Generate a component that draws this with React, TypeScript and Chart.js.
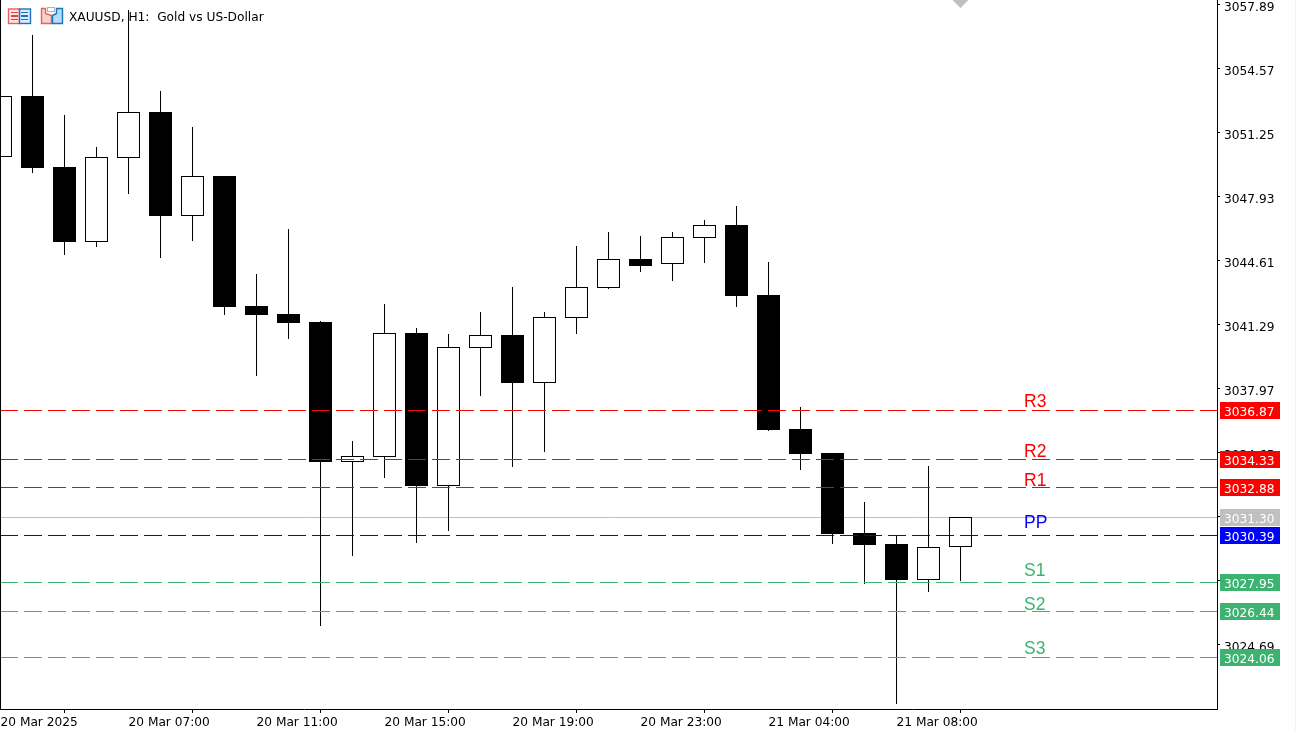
import { useEffect, useRef } from "react"
import { Chart, registerables } from "chart.js"

Chart.register(...registerables)

// One hourly candle per entry, XAUUSD H1
const opens = [
  3050.01, 3053.17, 3049.49, 3045.6, 3049.95, 3052.34, 3046.94, 3049.02, 3042.28, 3041.86, 3041.45,
  3034.18, 3034.44, 3040.87, 3032.94, 3040.1, 3040.77, 3038.28, 3041.65, 3043.21, 3044.71, 3044.45,
  3045.8, 3046.48, 3042.85, 3035.9, 3034.65, 3030.5, 3029.93, 3028.06, 3029.77,
]
const highs = [
  3053.17, 3056.33, 3052.18, 3050.52, 3057.63, 3053.43, 3051.56, 3049.02, 3043.94, 3046.27, 3041.5,
  3035.27, 3042.38, 3041.13, 3040.82, 3041.96, 3043.26, 3041.96, 3045.39, 3046.11, 3045.91, 3046.11,
  3046.74, 3047.46, 3044.56, 3037.04, 3034.65, 3032.11, 3030.4, 3033.98, 3031.33,
]
const lows = [
  3050.01, 3049.18, 3044.92, 3045.34, 3048.09, 3044.77, 3045.65, 3041.81, 3038.64, 3040.56, 3025.68,
  3029.31, 3033.35, 3029.98, 3030.6, 3037.61, 3033.92, 3034.7, 3040.82, 3043.16, 3044.04, 3043.57,
  3044.51, 3042.22, 3035.79, 3033.77, 3029.93, 3027.85, 3021.63, 3027.44, 3028.01,
]
const closes = [
  3053.17, 3049.43, 3045.6, 3050.0, 3052.34, 3046.94, 3049.02, 3042.22, 3041.81, 3041.39, 3034.18,
  3034.49, 3040.87, 3032.94, 3040.15, 3040.77, 3038.28, 3041.7, 3043.26, 3044.71, 3044.35, 3045.85,
  3046.48, 3042.79, 3035.84, 3034.6, 3030.45, 3029.88, 3028.06, 3029.77, 3031.33,
]

const priceTicks = [
  3057.89, 3054.57, 3051.25, 3047.93, 3044.61, 3041.29, 3037.97, 3034.65, 3031.33, 3028.01, 3024.69,
]
const timeTickBars = [0, 4, 8, 12, 16, 20, 24, 28]
const timeTickLabels = [
  "20 Mar 2025",
  "20 Mar 07:00",
  "20 Mar 11:00",
  "20 Mar 15:00",
  "20 Mar 19:00",
  "20 Mar 23:00",
  "21 Mar 04:00",
  "21 Mar 08:00",
]

const levelNames = ["R3", "R2", "R1", "PP", "S1", "S2", "S3"]
const levelValues = [3036.87, 3034.33, 3032.88, 3030.39, 3027.95, 3026.44, 3024.06]
// price at the baseline of each level's name
const levelNamePrices = [3037.05, 3034.46, 3032.94, 3030.76, 3028.28, 3026.5, 3024.22]
const levelColors = ["#ff0000", "#ff0000", "#ff0000", "#0000ff", "#3cb371", "#3cb371", "#3cb371"]

const lastPrice = 3031.3
const shiftMarkerBar = 30

const PRICE_MIN = 3021.37
const PRICE_MAX = 3058.149
const BAR_MIN = -0.015625
const BAR_MAX = 38.015625

// MT5 draws on whole pixels, so snap the bars and lines the same way
const pixelSnap = {
  id: "pixelSnap",
  afterDatasetsUpdate(chart: Chart) {
    chart.getSortedVisibleDatasetMetas().forEach((meta) => {
      meta.data.forEach((el: any) => {
        if (meta.type === "bar") {
          el.y = Math.round(el.y)
          el.base = Math.round(el.base)
        } else if (meta.type === "line") {
          el.y = Math.floor(el.y) + 0.5
        }
      })
    })
  },
}

function drawIcons(ctx: CanvasRenderingContext2D) {
  // table icon
  ctx.lineWidth = 1.4
  ctx.fillStyle = "#fde3e1"
  ctx.strokeStyle = "#e8605c"
  ctx.fillRect(8.5, 9, 11, 14.5)
  ctx.strokeRect(8.5, 9, 11, 14.5)
  ctx.fillStyle = "#dcecf8"
  ctx.strokeStyle = "#1c75bc"
  ctx.fillRect(19.5, 9, 11, 14.5)
  ctx.strokeRect(19.5, 9, 11, 14.5)
  ctx.fillStyle = "#e8403c"
  ctx.fillRect(11, 12, 7, 1)
  ctx.fillRect(11, 15, 7, 2)
  ctx.fillRect(11, 19, 7, 1)
  ctx.fillStyle = "#1c75bc"
  ctx.fillRect(21, 12, 7, 1)
  ctx.fillRect(21, 15, 7, 2)
  ctx.fillRect(21, 19, 7, 1)

  // template icon
  ctx.fillStyle = "#fbd0cc"
  ctx.strokeStyle = "#e8605c"
  ctx.beginPath()
  ctx.moveTo(41.5, 8.5)
  ctx.lineTo(45.5, 8.5)
  ctx.lineTo(45.5, 13.5)
  ctx.lineTo(51.5, 15.5)
  ctx.lineTo(51.5, 23.5)
  ctx.lineTo(41.5, 23.5)
  ctx.closePath()
  ctx.fill()
  ctx.stroke()
  ctx.fillStyle = "#b5dcf5"
  ctx.strokeStyle = "#1c75bc"
  ctx.beginPath()
  ctx.moveTo(56.5, 8.5)
  ctx.lineTo(62.5, 8.5)
  ctx.lineTo(62.5, 23.5)
  ctx.lineTo(52.5, 23.5)
  ctx.lineTo(52.5, 15.5)
  ctx.lineTo(56.5, 13.5)
  ctx.closePath()
  ctx.fill()
  ctx.stroke()
  ctx.lineWidth = 1
  ctx.strokeStyle = "#b0b0b0"
  ctx.strokeRect(47.5, 7.5, 7, 4)
}

const overlay = {
  id: "overlay",
  afterDraw(chart: Chart) {
    const { ctx } = chart
    const area = chart.chartArea
    const yScale = chart.scales.y

    ctx.save()
    ctx.fillStyle = "#000"
    ctx.fillRect(0, 0, 1, area.bottom)
    ctx.fillStyle = "#f0f0f0"
    ctx.fillRect(1295, 0, 1, 730)

    drawIcons(ctx)
    ctx.fillStyle = "#000"
    ctx.font = "12.2px 'DejaVu Sans'"
    ctx.textBaseline = "alphabetic"
    ctx.fillText("XAUUSD, H1:  Gold vs US-Dollar", 69, 21)

    // level names sit just above their lines
    ctx.font = "17.5px 'Liberation Sans'"
    levelNames.forEach((name, i) => {
      ctx.fillStyle = levelColors[i]
      ctx.fillText(name, 1024, Math.round(yScale.getPixelForValue(levelNamePrices[i])))
    })

    // price tags cover the axis labels
    const tags = [
      ...levelValues.map((v, i) => ({ value: v, color: levelColors[i] })),
      { value: lastPrice, color: "#c0c0c0" },
    ]
    ctx.font = "12.2px 'DejaVu Sans'"
    tags.forEach((tag) => {
      const y = Math.floor(yScale.getPixelForValue(tag.value))
      ctx.fillStyle = tag.color
      ctx.fillRect(1220, y - 8, 60, 17)
      ctx.fillStyle = "#fff"
      ctx.fillText(tag.value.toFixed(2), 1224, y + 6)
    })
    ctx.restore()
  },
}

export default function App() {
  const chartRef = useRef<HTMLCanvasElement | null>(null)

  useEffect(() => {
    if (!chartRef.current) return
    document.body.style.margin = "0"

    const bars = opens.map((_, i) => i)
    const flatLine = (value: number) => [
      { x: BAR_MIN, y: value },
      { x: BAR_MAX, y: value },
    ]

    const chart = new Chart(chartRef.current, {
      type: "bar",
      data: {
        datasets: [
          ...levelValues.map((value, i) => ({
            type: "line" as const,
            label: levelNames[i],
            data: flatLine(value),
            borderColor: levelColors[i],
            borderWidth: 1,
            borderDash: [18, 6],
            pointRadius: 0,
            order: 0,
          })),
          {
            type: "bar" as const,
            label: "Body",
            data: bars.map((i) => ({ x: i, y: [opens[i], closes[i]] })),
            backgroundColor: bars.map((i) => (closes[i] > opens[i] ? "#ffffff" : "#000000")),
            borderColor: "#000000",
            borderWidth: 1,
            borderSkipped: false,
            inflateAmount: 0,
            barThickness: 23,
            grouped: false,
            order: 1,
          },
          {
            type: "bar" as const,
            label: "Wick",
            data: bars.map((i) => ({ x: i, y: [lows[i], highs[i]] })),
            backgroundColor: "#000000",
            borderWidth: 0,
            inflateAmount: 0,
            barThickness: 1,
            grouped: false,
            order: 2,
          },
          {
            type: "line" as const,
            label: "Last",
            data: flatLine(lastPrice),
            borderColor: "#c0c0c0",
            borderWidth: 1,
            pointRadius: 0,
            order: 3,
          },
          {
            type: "scatter" as const,
            label: "Shift",
            data: [{ x: shiftMarkerBar, y: PRICE_MAX }],
            pointStyle: "rectRot",
            pointRadius: 8,
            backgroundColor: "#c0c0c0",
            borderWidth: 0,
            order: 4,
          },
        ],
      },
      options: {
        responsive: false,
        animation: false,
        events: [],
        devicePixelRatio: 1,
        layout: { padding: 0, autoPadding: false },
        plugins: {
          legend: { display: false },
          tooltip: { enabled: false },
        },
        scales: {
          x: {
            type: "linear",
            offset: false,
            min: BAR_MIN,
            max: BAR_MAX,
            afterBuildTicks: (scale: any) => {
              scale.ticks = timeTickBars.map((value) => ({ value }))
            },
            afterFit: (scale: any) => {
              scale.height = 21
              scale.paddingLeft = 0
              scale.paddingRight = 0
            },
            grid: { drawOnChartArea: false, color: "#000", tickLength: 4 },
            border: { color: "#000", width: 1 },
            ticks: {
              align: "start",
              autoSkip: false,
              maxRotation: 0,
              minRotation: 0,
              padding: 3,
              color: "#000",
              font: { family: "'DejaVu Sans'", size: 12.2 },
              callback: (value: any) => timeTickLabels[timeTickBars.indexOf(value)],
            },
          },
          y: {
            position: "right",
            min: PRICE_MIN,
            max: PRICE_MAX,
            afterBuildTicks: (scale: any) => {
              scale.ticks = priceTicks.map((value) => ({ value }))
            },
            afterFit: (scale: any) => {
              scale.width = 79
              scale.paddingTop = 0
              scale.paddingBottom = 0
            },
            grid: { drawOnChartArea: false, color: "#000", tickLength: 3 },
            border: { color: "#000", width: 1 },
            ticks: {
              autoSkip: false,
              padding: 4,
              color: "#000",
              // empty first line pushes the number down to sit level with its tick
              font: { family: "'DejaVu Sans'", size: 12.2, lineHeight: "6px" },
              callback: (value: any) => ["", Number(value).toFixed(2)],
            },
          },
        },
      },
      plugins: [pixelSnap, overlay],
    } as any)

    return () => chart.destroy()
  }, [])

  return (
    <div style={{ position: "absolute", left: 0, top: 0, width: 1296, height: 730 }}>
      <canvas ref={chartRef} width={1296} height={730} style={{ display: "block" }} />
    </div>
  )
}
